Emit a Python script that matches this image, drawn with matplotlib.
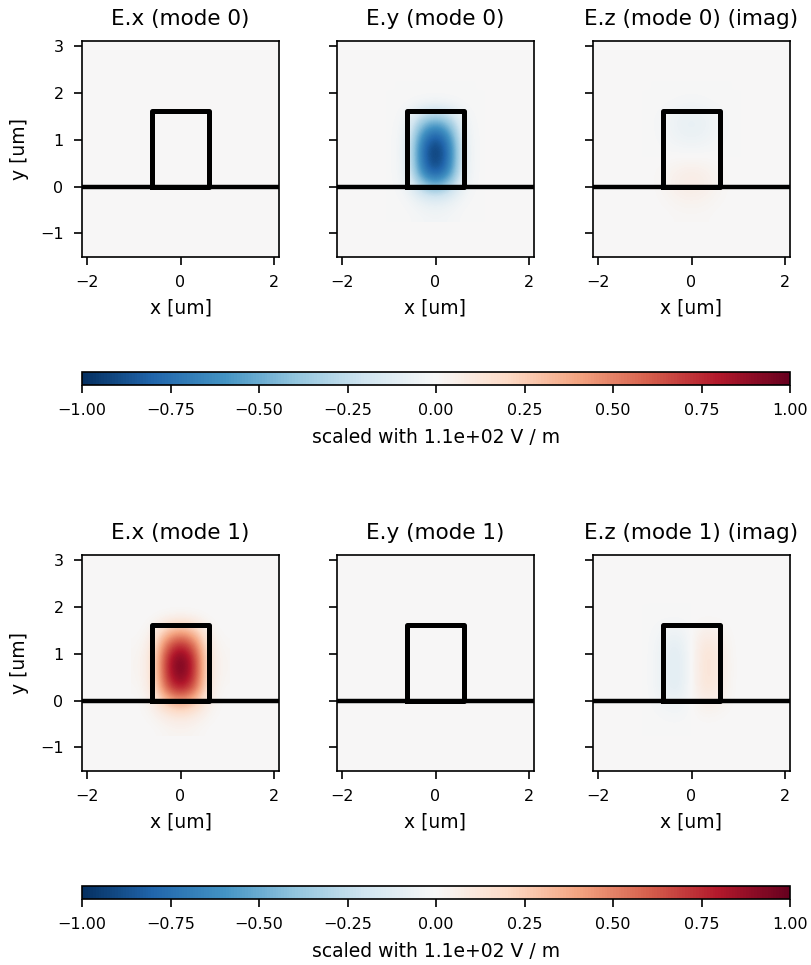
import numpy as np
import matplotlib
matplotlib.use('Agg')
import matplotlib.pyplot as plt
from matplotlib.colors import Normalize
from matplotlib.cm import ScalarMappable

# field samples on a coarse grid, normalised to the peak
x_nodes = [-0.9, -0.6, -0.3, 0.0, 0.3, 0.6, 0.9]
y_nodes = [-0.6, -0.3, 0.0, 0.3, 0.6, 0.9, 1.2, 1.5, 1.8, 2.1]

ex_mode0 = [[0.0] * 7 for _ in y_nodes]

ey_mode0 = [
    [0.0, 0.0, -0.02, -0.03, -0.02, 0.0, 0.0],
    [0.0, -0.01, -0.07, -0.11, -0.07, -0.01, 0.0],
    [0.0, -0.04, -0.30, -0.45, -0.30, -0.04, 0.0],
    [0.0, -0.07, -0.64, -0.88, -0.64, -0.07, 0.0],
    [0.0, -0.08, -0.74, -1.00, -0.74, -0.08, 0.0],
    [0.0, -0.08, -0.72, -0.98, -0.72, -0.08, 0.0],
    [0.0, -0.06, -0.54, -0.76, -0.54, -0.06, 0.0],
    [0.0, -0.03, -0.25, -0.36, -0.25, -0.03, 0.0],
    [0.0, 0.0, -0.01, -0.02, -0.01, 0.0, 0.0],
    [0.0, 0.0, 0.0, 0.0, 0.0, 0.0, 0.0],
]

ez_mode0 = [
    [0.0, 0.0, 0.01, 0.01, 0.01, 0.0, 0.0],
    [0.0, 0.01, 0.03, 0.04, 0.03, 0.01, 0.0],
    [0.0, 0.02, 0.06, 0.08, 0.06, 0.02, 0.0],
    [0.0, 0.02, 0.05, 0.07, 0.05, 0.02, 0.0],
    [0.0, 0.0, 0.01, 0.01, 0.01, 0.0, 0.0],
    [0.0, -0.01, -0.03, -0.04, -0.03, -0.01, 0.0],
    [0.0, -0.02, -0.06, -0.08, -0.06, -0.02, 0.0],
    [0.0, -0.02, -0.06, -0.08, -0.06, -0.02, 0.0],
    [0.0, 0.0, -0.01, -0.02, -0.01, 0.0, 0.0],
    [0.0, 0.0, 0.0, 0.0, 0.0, 0.0, 0.0],
]

ex_mode1 = [
    [0.0, 0.0, 0.02, 0.03, 0.02, 0.0, 0.0],
    [0.0, 0.02, 0.08, 0.12, 0.08, 0.02, 0.0],
    [0.0, 0.05, 0.30, 0.45, 0.30, 0.05, 0.0],
    [0.01, 0.09, 0.64, 0.86, 0.64, 0.09, 0.01],
    [0.02, 0.10, 0.74, 1.00, 0.74, 0.10, 0.02],
    [0.02, 0.10, 0.74, 1.00, 0.74, 0.10, 0.02],
    [0.01, 0.08, 0.56, 0.78, 0.56, 0.08, 0.01],
    [0.0, 0.03, 0.26, 0.38, 0.26, 0.03, 0.0],
    [0.0, 0.0, 0.01, 0.02, 0.01, 0.0, 0.0],
    [0.0, 0.0, 0.0, 0.0, 0.0, 0.0, 0.0],
]

ey_mode1 = [[0.0] * 7 for _ in y_nodes]

ez_mode1 = [
    [0.0, 0.0, 0.0, 0.0, 0.0, 0.0, 0.0],
    [0.0, -0.01, -0.02, 0.0, 0.02, 0.01, 0.0],
    [0.0, -0.04, -0.07, 0.0, 0.08, 0.05, 0.0],
    [0.0, -0.07, -0.12, 0.0, 0.14, 0.08, 0.0],
    [0.0, -0.07, -0.13, 0.0, 0.15, 0.09, 0.0],
    [0.0, -0.07, -0.13, 0.0, 0.15, 0.09, 0.0],
    [0.0, -0.06, -0.11, 0.0, 0.13, 0.07, 0.0],
    [0.0, -0.03, -0.05, 0.0, 0.06, 0.03, 0.0],
    [0.0, 0.0, 0.0, 0.0, 0.0, 0.0, 0.0],
    [0.0, 0.0, 0.0, 0.0, 0.0, 0.0, 0.0],
]

rows = [
    [('E.x (mode 0)', ex_mode0), ('E.y (mode 0)', ey_mode0), ('E.z (mode 0) (imag)', ez_mode0)],
    [('E.x (mode 1)', ex_mode1), ('E.y (mode 1)', ey_mode1), ('E.z (mode 1) (imag)', ez_mode1)],
]

# waveguide core and substrate interface [um]
core_x = [-0.6, -0.6, 0.6, 0.6, -0.6]
core_y = [0.0, 1.6, 1.6, 0.0, 0.0]
xlim = (-2.1, 2.1)
ylim = (-1.5, 3.1)
field_scale = 1.1e2

cmap = plt.get_cmap('RdBu_r')
norm = Normalize(vmin=-1, vmax=1)

W, H = 811, 965
fig = plt.figure(figsize=(W / 100, H / 100), dpi=100)

ax_left = [82, 337, 593]
ax_w = 197
row_top = [41, 555]
ax_h = 216
cbar_top = [372, 886]

dx = x_nodes[1] - x_nodes[0]
dy = y_nodes[1] - y_nodes[0]
extent = [x_nodes[0] - dx / 2, x_nodes[-1] + dx / 2, y_nodes[0] - dy / 2, y_nodes[-1] + dy / 2]

tick_kw = dict(labelsize=11.5, length=5.8, width=1.2, pad=7.5)

for r, panels in enumerate(rows):
    for c, (title, field) in enumerate(panels):
        ax = fig.add_axes([ax_left[c] / W, 1 - (row_top[r] + ax_h) / H, ax_w / W, ax_h / H])
        ax.set_facecolor(cmap(0.5))
        ax.imshow(np.array(field), origin='lower', extent=extent, cmap=cmap, norm=norm,
                  interpolation='bicubic')
        ax.plot(core_x, core_y, color='black', lw=3.6, solid_joinstyle='round')
        ax.axhline(0, color='black', lw=3.2)
        ax.set_xlim(*xlim)
        ax.set_ylim(*ylim)
        ax.set_aspect('equal')
        ax.set_xticks([-2, 0, 2])
        ax.set_yticks([-1, 0, 1, 2, 3])
        ax.tick_params(**tick_kw)
        for sp in ax.spines.values():
            sp.set_linewidth(1.2)
        ax.set_title(title, fontsize=15.5, pad=11.5)
        ax.set_xlabel('x [um]', fontsize=13.5, labelpad=6)
        if c == 0:
            ax.set_ylabel('y [um]', fontsize=13.5, labelpad=8)
        else:
            ax.set_yticklabels([])

    cax = fig.add_axes([82 / W, 1 - (cbar_top[r] + 13) / H, 708 / W, 13 / H])
    cb = fig.colorbar(ScalarMappable(norm=norm, cmap=cmap), cax=cax, orientation='horizontal')
    cb.set_ticks([-1, -0.75, -0.5, -0.25, 0, 0.25, 0.5, 0.75, 1])
    cb.ax.tick_params(**tick_kw)
    cb.outline.set_linewidth(1.2)
    cb.set_label(f'scaled with {field_scale:.1e} V / m', fontsize=13.5, labelpad=7)

fig.savefig('out.png', dpi=100)
